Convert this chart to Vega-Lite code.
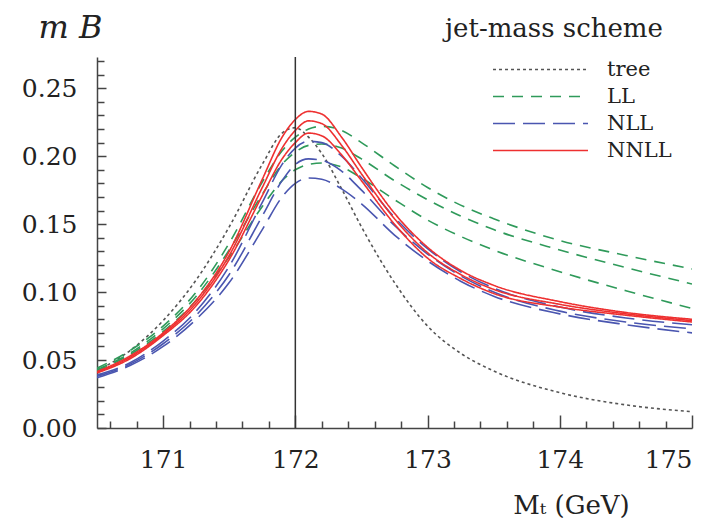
{
  "$schema": "https://vega.github.io/schema/vega-lite/v6.json",
  "width": 595,
  "height": 371,
  "autosize": {"type": "none"},
  "padding": {"left": 97, "top": 57, "right": 32, "bottom": 93},
  "background": "white",
  "config": {
    "view": {"stroke": null},
    "axis": {"labelOverlap": false},
    "legend": {
      "orient": "none", "legendX": 348, "legendY": -41, "padding": 0,
      "titleFont": "DejaVu Serif", "titleFontSize": 26, "titleFontWeight": "normal", "titleColor": "#222222",
      "titleLimit": 400, "titlePadding": 14, "titleBaseline": "top",
      "symbolType": "stroke", "symbolSize": 9025, "symbolStrokeWidth": 1.5, "symbolOffset": 47,
      "clipHeight": 27, "rowPadding": 0, "labelOffset": 18,
      "labelFont": "DejaVu Serif", "labelFontSize": 21, "labelColor": "#222222"
    }
  },
  "datasets": {
    "curves": [
      {"s":"tree","c":"t","x":170.5,"y":0.042},{"s":"tree","c":"t","x":170.75,"y":0.057},{"s":"tree","c":"t","x":171.0,"y":0.079},{"s":"tree","c":"t","x":171.25,"y":0.109},{"s":"tree","c":"t","x":171.5,"y":0.148},{"s":"tree","c":"t","x":171.75,"y":0.194},{"s":"tree","c":"t","x":171.9,"y":0.217},{"s":"tree","c":"t","x":172.0,"y":0.221},{"s":"tree","c":"t","x":172.1,"y":0.214},{"s":"tree","c":"t","x":172.2,"y":0.202},{"s":"tree","c":"t","x":172.35,"y":0.176},{"s":"tree","c":"t","x":172.5,"y":0.148},{"s":"tree","c":"t","x":172.75,"y":0.107},{"s":"tree","c":"t","x":173.0,"y":0.075},{"s":"tree","c":"t","x":173.25,"y":0.055},{"s":"tree","c":"t","x":173.5,"y":0.042},{"s":"tree","c":"t","x":174.0,"y":0.026},{"s":"tree","c":"t","x":174.5,"y":0.017},{"s":"tree","c":"t","x":175.0,"y":0.012},

      {"s":"LL","c":"L1","x":170.5,"y":0.044},{"s":"LL","c":"L1","x":170.75,"y":0.057},{"s":"LL","c":"L1","x":171.0,"y":0.075},{"s":"LL","c":"L1","x":171.25,"y":0.100},{"s":"LL","c":"L1","x":171.5,"y":0.136},{"s":"LL","c":"L1","x":171.75,"y":0.181},{"s":"LL","c":"L1","x":171.9,"y":0.204},{"s":"LL","c":"L1","x":172.0,"y":0.214},{"s":"LL","c":"L1","x":172.1,"y":0.220},{"s":"LL","c":"L1","x":172.2,"y":0.222},{"s":"LL","c":"L1","x":172.35,"y":0.219},{"s":"LL","c":"L1","x":172.5,"y":0.210},{"s":"LL","c":"L1","x":172.75,"y":0.193},{"s":"LL","c":"L1","x":173.0,"y":0.177},{"s":"LL","c":"L1","x":173.25,"y":0.164},{"s":"LL","c":"L1","x":173.5,"y":0.154},{"s":"LL","c":"L1","x":174.0,"y":0.138},{"s":"LL","c":"L1","x":174.5,"y":0.127},{"s":"LL","c":"L1","x":175.0,"y":0.117},
      {"s":"LL","c":"L2","x":170.5,"y":0.043},{"s":"LL","c":"L2","x":170.75,"y":0.055},{"s":"LL","c":"L2","x":171.0,"y":0.073},{"s":"LL","c":"L2","x":171.25,"y":0.097},{"s":"LL","c":"L2","x":171.5,"y":0.131},{"s":"LL","c":"L2","x":171.75,"y":0.172},{"s":"LL","c":"L2","x":171.9,"y":0.194},{"s":"LL","c":"L2","x":172.0,"y":0.203},{"s":"LL","c":"L2","x":172.1,"y":0.208},{"s":"LL","c":"L2","x":172.2,"y":0.209},{"s":"LL","c":"L2","x":172.35,"y":0.206},{"s":"LL","c":"L2","x":172.5,"y":0.198},{"s":"LL","c":"L2","x":172.75,"y":0.182},{"s":"LL","c":"L2","x":173.0,"y":0.168},{"s":"LL","c":"L2","x":173.25,"y":0.156},{"s":"LL","c":"L2","x":173.5,"y":0.146},{"s":"LL","c":"L2","x":174.0,"y":0.131},{"s":"LL","c":"L2","x":174.5,"y":0.118},{"s":"LL","c":"L2","x":175.0,"y":0.106},
      {"s":"LL","c":"L3","x":170.5,"y":0.042},{"s":"LL","c":"L3","x":170.75,"y":0.054},{"s":"LL","c":"L3","x":171.0,"y":0.071},{"s":"LL","c":"L3","x":171.25,"y":0.094},{"s":"LL","c":"L3","x":171.5,"y":0.126},{"s":"LL","c":"L3","x":171.75,"y":0.163},{"s":"LL","c":"L3","x":171.9,"y":0.182},{"s":"LL","c":"L3","x":172.0,"y":0.190},{"s":"LL","c":"L3","x":172.1,"y":0.194},{"s":"LL","c":"L3","x":172.2,"y":0.195},{"s":"LL","c":"L3","x":172.35,"y":0.192},{"s":"LL","c":"L3","x":172.5,"y":0.184},{"s":"LL","c":"L3","x":172.75,"y":0.168},{"s":"LL","c":"L3","x":173.0,"y":0.153},{"s":"LL","c":"L3","x":173.25,"y":0.141},{"s":"LL","c":"L3","x":173.5,"y":0.131},{"s":"LL","c":"L3","x":174.0,"y":0.115},{"s":"LL","c":"L3","x":174.5,"y":0.101},{"s":"LL","c":"L3","x":175.0,"y":0.088},

      {"s":"NLL","c":"N1","x":170.5,"y":0.039},{"s":"NLL","c":"N1","x":170.75,"y":0.048},{"s":"NLL","c":"N1","x":171.0,"y":0.064},{"s":"NLL","c":"N1","x":171.25,"y":0.086},{"s":"NLL","c":"N1","x":171.5,"y":0.119},{"s":"NLL","c":"N1","x":171.75,"y":0.166},{"s":"NLL","c":"N1","x":171.9,"y":0.194},{"s":"NLL","c":"N1","x":172.0,"y":0.206},{"s":"NLL","c":"N1","x":172.1,"y":0.211},{"s":"NLL","c":"N1","x":172.2,"y":0.210},{"s":"NLL","c":"N1","x":172.35,"y":0.200},{"s":"NLL","c":"N1","x":172.5,"y":0.184},{"s":"NLL","c":"N1","x":172.75,"y":0.155},{"s":"NLL","c":"N1","x":173.0,"y":0.132},{"s":"NLL","c":"N1","x":173.25,"y":0.115},{"s":"NLL","c":"N1","x":173.5,"y":0.103},{"s":"NLL","c":"N1","x":174.0,"y":0.089},{"s":"NLL","c":"N1","x":174.5,"y":0.081},{"s":"NLL","c":"N1","x":175.0,"y":0.076},
      {"s":"NLL","c":"N2","x":170.5,"y":0.038},{"s":"NLL","c":"N2","x":170.75,"y":0.047},{"s":"NLL","c":"N2","x":171.0,"y":0.062},{"s":"NLL","c":"N2","x":171.25,"y":0.083},{"s":"NLL","c":"N2","x":171.5,"y":0.113},{"s":"NLL","c":"N2","x":171.75,"y":0.156},{"s":"NLL","c":"N2","x":171.9,"y":0.182},{"s":"NLL","c":"N2","x":172.0,"y":0.194},{"s":"NLL","c":"N2","x":172.1,"y":0.198},{"s":"NLL","c":"N2","x":172.2,"y":0.197},{"s":"NLL","c":"N2","x":172.35,"y":0.189},{"s":"NLL","c":"N2","x":172.5,"y":0.175},{"s":"NLL","c":"N2","x":172.75,"y":0.149},{"s":"NLL","c":"N2","x":173.0,"y":0.128},{"s":"NLL","c":"N2","x":173.25,"y":0.112},{"s":"NLL","c":"N2","x":173.5,"y":0.100},{"s":"NLL","c":"N2","x":174.0,"y":0.086},{"s":"NLL","c":"N2","x":174.5,"y":0.078},{"s":"NLL","c":"N2","x":175.0,"y":0.073},
      {"s":"NLL","c":"N3","x":170.5,"y":0.037},{"s":"NLL","c":"N3","x":170.75,"y":0.046},{"s":"NLL","c":"N3","x":171.0,"y":0.060},{"s":"NLL","c":"N3","x":171.25,"y":0.080},{"s":"NLL","c":"N3","x":171.5,"y":0.107},{"s":"NLL","c":"N3","x":171.75,"y":0.146},{"s":"NLL","c":"N3","x":171.9,"y":0.170},{"s":"NLL","c":"N3","x":172.0,"y":0.180},{"s":"NLL","c":"N3","x":172.1,"y":0.184},{"s":"NLL","c":"N3","x":172.2,"y":0.183},{"s":"NLL","c":"N3","x":172.35,"y":0.176},{"s":"NLL","c":"N3","x":172.5,"y":0.165},{"s":"NLL","c":"N3","x":172.75,"y":0.142},{"s":"NLL","c":"N3","x":173.0,"y":0.123},{"s":"NLL","c":"N3","x":173.25,"y":0.108},{"s":"NLL","c":"N3","x":173.5,"y":0.097},{"s":"NLL","c":"N3","x":174.0,"y":0.084},{"s":"NLL","c":"N3","x":174.5,"y":0.076},{"s":"NLL","c":"N3","x":175.0,"y":0.070},

      {"s":"NNLL","c":"R1","x":170.5,"y":0.0415},{"s":"NNLL","c":"R1","x":170.75,"y":0.053},{"s":"NNLL","c":"R1","x":171.0,"y":0.070},{"s":"NNLL","c":"R1","x":171.25,"y":0.094},{"s":"NNLL","c":"R1","x":171.5,"y":0.130},{"s":"NNLL","c":"R1","x":171.75,"y":0.183},{"s":"NNLL","c":"R1","x":171.9,"y":0.214},{"s":"NNLL","c":"R1","x":172.0,"y":0.227},{"s":"NNLL","c":"R1","x":172.1,"y":0.233},{"s":"NNLL","c":"R1","x":172.2,"y":0.231},{"s":"NNLL","c":"R1","x":172.35,"y":0.214},{"s":"NNLL","c":"R1","x":172.5,"y":0.192},{"s":"NNLL","c":"R1","x":172.75,"y":0.158},{"s":"NNLL","c":"R1","x":173.0,"y":0.133},{"s":"NNLL","c":"R1","x":173.25,"y":0.116},{"s":"NNLL","c":"R1","x":173.5,"y":0.105},{"s":"NNLL","c":"R1","x":174.0,"y":0.093},{"s":"NNLL","c":"R1","x":174.5,"y":0.085},{"s":"NNLL","c":"R1","x":175.0,"y":0.080},
      {"s":"NNLL","c":"R2","x":170.5,"y":0.041},{"s":"NNLL","c":"R2","x":170.75,"y":0.052},{"s":"NNLL","c":"R2","x":171.0,"y":0.069},{"s":"NNLL","c":"R2","x":171.25,"y":0.092},{"s":"NNLL","c":"R2","x":171.5,"y":0.127},{"s":"NNLL","c":"R2","x":171.75,"y":0.177},{"s":"NNLL","c":"R2","x":171.9,"y":0.206},{"s":"NNLL","c":"R2","x":172.0,"y":0.219},{"s":"NNLL","c":"R2","x":172.1,"y":0.226},{"s":"NNLL","c":"R2","x":172.2,"y":0.224},{"s":"NNLL","c":"R2","x":172.35,"y":0.208},{"s":"NNLL","c":"R2","x":172.5,"y":0.187},{"s":"NNLL","c":"R2","x":172.75,"y":0.154},{"s":"NNLL","c":"R2","x":173.0,"y":0.129},{"s":"NNLL","c":"R2","x":173.25,"y":0.113},{"s":"NNLL","c":"R2","x":173.5,"y":0.102},{"s":"NNLL","c":"R2","x":174.0,"y":0.091},{"s":"NNLL","c":"R2","x":174.5,"y":0.084},{"s":"NNLL","c":"R2","x":175.0,"y":0.079},
      {"s":"NNLL","c":"R3","x":170.5,"y":0.0405},{"s":"NNLL","c":"R3","x":170.75,"y":0.051},{"s":"NNLL","c":"R3","x":171.0,"y":0.068},{"s":"NNLL","c":"R3","x":171.25,"y":0.090},{"s":"NNLL","c":"R3","x":171.5,"y":0.124},{"s":"NNLL","c":"R3","x":171.75,"y":0.171},{"s":"NNLL","c":"R3","x":171.9,"y":0.198},{"s":"NNLL","c":"R3","x":172.0,"y":0.210},{"s":"NNLL","c":"R3","x":172.1,"y":0.217},{"s":"NNLL","c":"R3","x":172.2,"y":0.215},{"s":"NNLL","c":"R3","x":172.35,"y":0.201},{"s":"NNLL","c":"R3","x":172.5,"y":0.182},{"s":"NNLL","c":"R3","x":172.75,"y":0.150},{"s":"NNLL","c":"R3","x":173.0,"y":0.125},{"s":"NNLL","c":"R3","x":173.25,"y":0.110},{"s":"NNLL","c":"R3","x":173.5,"y":0.099},{"s":"NNLL","c":"R3","x":174.0,"y":0.089},{"s":"NNLL","c":"R3","x":174.5,"y":0.083},{"s":"NNLL","c":"R3","x":175.0,"y":0.078}
    ],
    "marker": [{"x": 172}]
  },
  "encoding": {
    "x": {
      "field": "x", "type": "quantitative",
      "scale": {"domain": [170.5, 175], "nice": false, "zero": false},
      "axis": {
        "values": [170.6,170.8,171,171.2,171.4,171.6,171.8,172,172.2,172.4,172.6,172.8,173,173.2,173.4,173.6,173.8,174,174.2,174.4,174.6,174.8,175],
        "labelExpr": "abs(datum.value - round(datum.value)) < 0.01 ? format(datum.value, 'd') : ''",
        "labelOverlap": false,
        "tickSize": {"condition": {"test": "abs(datum.value - round(datum.value)) < 0.01", "value": -13}, "value": -7},
        "tickColor": "#444444", "tickWidth": 1.5,
        "domainColor": "#444444", "domainWidth": 1.5,
        "grid": false, "labelPadding": 32,
        "labelFont": "DejaVu Serif", "labelFontSize": 25, "labelColor": "#222222", "labelBaseline": "top",
        "title": "Mₜ (GeV)", "titleFont": "DejaVu Serif", "titleFontSize": 26, "titleFontWeight": "normal", "titleColor": "#222222",
        "titleX": 474, "titleY": 85, "titleAlign": "center", "titleBaseline": "alphabetic"
      }
    }
  },
  "layer": [
    {
      "data": {"name": "curves"},
      "mark": {"type": "line", "interpolate": "monotone", "strokeWidth": 1.6, "clip": true},
      "encoding": {
        "y": {
          "field": "y", "type": "quantitative",
          "scale": {"domain": [0, 0.273], "nice": false},
          "axis": {
            "values": [0,0.01,0.02,0.03,0.04,0.05,0.06,0.07,0.08,0.09,0.1,0.11,0.12,0.13,0.14,0.15,0.16,0.17,0.18,0.19,0.2,0.21,0.22,0.23,0.24,0.25,0.26,0.27],
            "labelExpr": "round(datum.value * 100) % 5 == 0 ? format(datum.value, '.2f') : ''",
            "labelOverlap": false,
            "tickSize": {"condition": {"test": "round(datum.value * 100) % 5 == 0", "value": -9}, "value": -7},
            "tickColor": "#444444", "tickWidth": 1.5,
            "domainColor": "#444444", "domainWidth": 1.5,
            "grid": false, "labelPadding": 29,
            "labelFont": "DejaVu Serif", "labelFontSize": 25, "labelColor": "#222222",
            "title": "m B", "titleFont": "DejaVu Serif", "titleFontSize": 32, "titleFontStyle": "italic", "titleFontWeight": "normal", "titleColor": "#222222",
            "titleAngle": 0, "titleX": -59, "titleY": -20, "titleAlign": "left", "titleBaseline": "alphabetic"
          }
        },
        "color": {
          "field": "s", "type": "nominal", "title": "jet-mass scheme",
          "scale": {"domain": ["tree", "LL", "NLL", "NNLL"], "range": ["#555555", "#2f9a5a", "#4a56b0", "#ee3030"]}
        },
        "strokeDash": {
          "field": "s", "type": "nominal", "title": "jet-mass scheme",
          "scale": {"domain": ["tree", "LL", "NLL", "NNLL"], "range": [[3, 3], [11, 8], [22, 8], [1, 0]]}
        },
        "detail": {"field": "c", "type": "nominal"}
      }
    },
    {
      "data": {"name": "marker"},
      "mark": {"type": "rule", "color": "#333333", "strokeWidth": 1.5},
      "encoding": {}
    }
  ]
}
